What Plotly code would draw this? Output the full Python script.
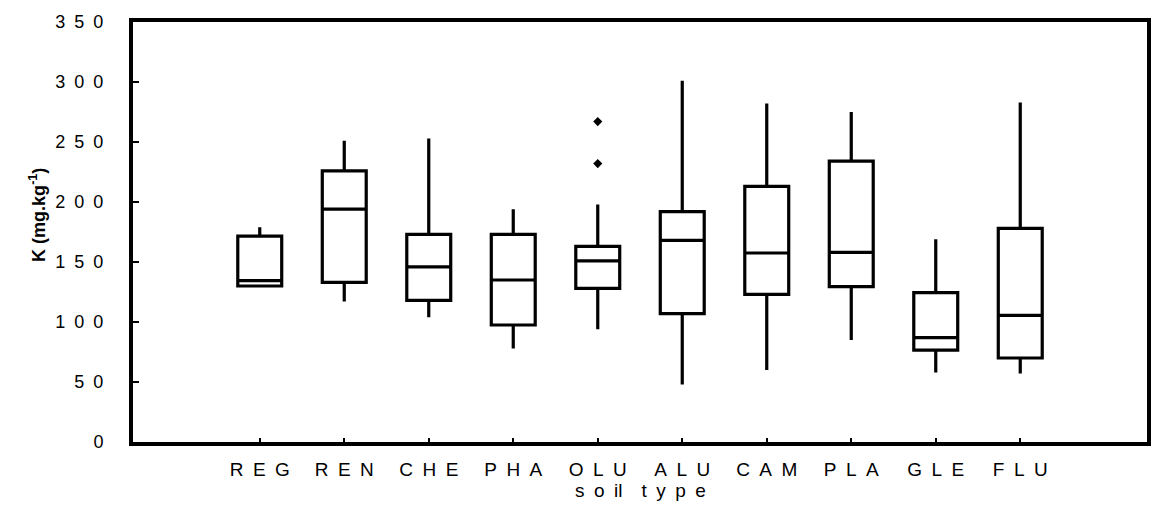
import plotly.graph_objects as go

# Soil types and potassium box statistics (mg/kg)
soil_types = ["REG", "REN", "CHE", "PHA", "OLU", "ALU", "CAM", "PLA", "GLE", "FLU"]
whisker_low = [129, 117, 104, 78, 94, 48, 60, 85, 58, 57]
q1 = [130, 133, 118, 97.5, 128, 107, 123, 129.5, 76.5, 70]
median = [134.5, 194, 146, 135, 151, 168, 157.5, 158, 87, 105.5]
q3 = [171.5, 226, 173, 173, 163, 192, 213, 234, 124.5, 178]
whisker_high = [179, 251, 253, 194, 198, 301, 282, 275, 169, 283]

# Outlying samples (soil type, value)
outlier_type = ["OLU", "OLU"]
outlier_value = [267, 232]

y_ticks = [0, 50, 100, 150, 200, 250, 300, 350]

EN = "\u2002"


def spaced(s, gap):
    return gap.join(list(s))


positions = list(range(len(soil_types)))
pos_of = {name: i for i, name in enumerate(soil_types)}

fig = go.Figure()

fig.add_trace(go.Box(
    x=positions,
    q1=q1,
    median=median,
    q3=q3,
    lowerfence=whisker_low,
    upperfence=whisker_high,
    width=0.52,
    whiskerwidth=0,
    boxpoints=False,
    fillcolor="white",
    line=dict(color="black", width=3.2),
    hoverinfo="skip",
    showlegend=False,
))

fig.add_trace(go.Scatter(
    x=[pos_of[t] for t in outlier_type],
    y=outlier_value,
    mode="markers",
    marker=dict(symbol="diamond", size=7, color="black"),
    showlegend=False,
    hoverinfo="skip",
))

font_family = "Liberation Sans, Arial, sans-serif"

fig.update_layout(
    width=1157,
    height=509,
    margin=dict(l=133, r=6, t=22, b=67),
    paper_bgcolor="white",
    plot_bgcolor="white",
    font=dict(family=font_family, color="black"),
    xaxis=dict(
        range=[-1.5, 10.5],
        tickvals=positions,
        ticktext=[spaced(s, EN) for s in soil_types],
        tickfont=dict(size=19, family=font_family, color="black"),
        ticks="inside",
        ticklen=4,
        tickwidth=1.5,
        tickcolor="black",
        showline=True,
        linecolor="black",
        linewidth=4,
        mirror=True,
        showgrid=False,
        zeroline=False,
        ticklabelstandoff=7,
    ),
    yaxis=dict(
        range=[0, 350],
        tickvals=y_ticks,
        ticktext=[spaced(str(v), EN) for v in y_ticks],
        tickfont=dict(size=18, family=font_family, color="black"),
        ticks="inside",
        ticklen=6,
        tickwidth=1.5,
        tickcolor="black",
        showline=True,
        linecolor="black",
        linewidth=4,
        mirror=True,
        showgrid=False,
        zeroline=False,
        ticklabelstandoff=22,
    ),
    annotations=[
        dict(
            text="<b>K (mg.kg<sup>-1</sup>)</b>",
            textangle=-90,
            xref="paper", yref="paper",
            x=-0.094, y=0.54,
            xanchor="center", yanchor="middle",
            showarrow=False,
            font=dict(size=18, family=font_family, color="black"),
        ),
        dict(
            text=("s" + EN + "o" + EN + "il" + EN + EN + "t" + EN + "y" + EN + "p" + EN + "e"),
            xref="paper", yref="paper",
            x=0.5, y=-0.085,
            xanchor="center", yanchor="top",
            showarrow=False,
            font=dict(size=19, family=font_family, color="black"),
        ),
    ],
)

fig.write_html("out.html")
